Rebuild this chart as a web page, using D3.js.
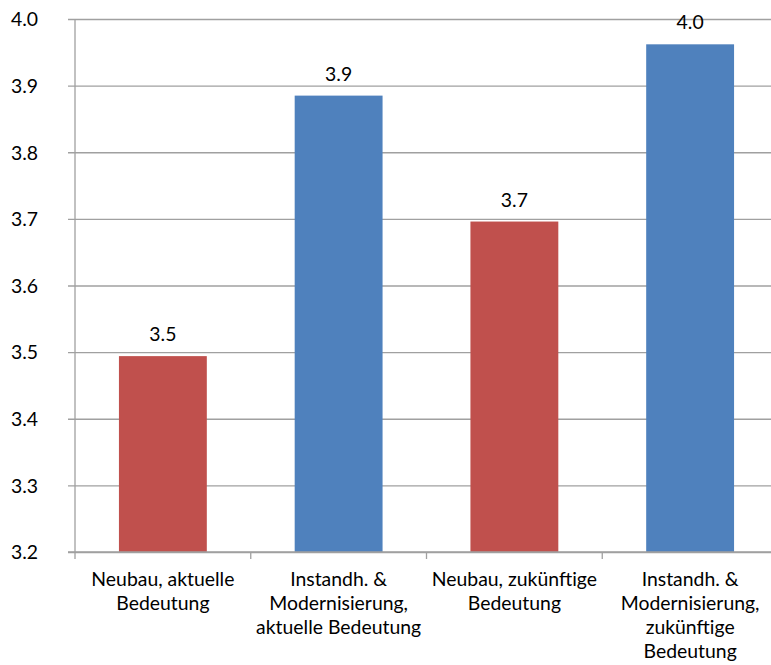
<!DOCTYPE html>
<html>
<head>
<meta charset="utf-8">
<script src="https://cdn.jsdelivr.net/npm/d3@7"></script>
<style>
  body { margin: 0; background: #fff; }
  text { font-family: Lato, "Liberation Sans", sans-serif; fill: #000; }
</style>
</head>
<body>
<script>
// data
const categories = [
  "Neubau, aktuelle\nBedeutung",
  "Instandh. &\nModernisierung,\naktuelle Bedeutung",
  "Neubau, zukünftige\nBedeutung",
  "Instandh. &\nModernisierung,\nzukünftige\nBedeutung"
];
const values = [3.494, 3.885, 3.696, 3.962];
const barColors = ["#C0504D", "#4F81BD", "#C0504D", "#4F81BD"];
const yTicks = [3.2, 3.3, 3.4, 3.5, 3.6, 3.7, 3.8, 3.9, 4.0];

// basic settings
const width = 771;
const height = 665;
const marginLeft = 75;
const marginTop = 19;
const plotW = 703;
const plotH = 533;
const gridColor = "#a0a0a0";
const fontSize = 19.4;

const svg = d3.select('body')
  .append('svg')
  .attr('width', width)
  .attr('height', height);

const chart_g = svg.append('g')
  .attr('transform', `translate(${marginLeft},${marginTop})`);

const x = d3.scaleBand()
  .domain(categories)
  .range([0, plotW])
  .paddingInner(0.5)
  .paddingOuter(0.25);

const y = d3.scaleLinear()
  .domain([3.2, 4.0])
  .range([plotH, 0]);

// gridlines + y axis
const yAxis = d3.axisLeft(y)
  .tickValues(yTicks)
  .tickFormat(d3.format('.1f'))
  .tickSize(-plotW)
  .tickPadding(0);

const yg = chart_g.append('g').call(yAxis);
yg.select('.domain').remove();
yg.selectAll('.tick line')
  .attr('x1', -7)
  .attr('stroke', gridColor)
  .attr('stroke-width', 1.3);
yg.selectAll('.tick text')
  .attr('x', -37)
  .attr('dy', '0.35em')
  .style('font-size', fontSize + 'px')
  .style('font-family', 'Lato, sans-serif');

// vertical axis line
chart_g.append('line')
  .attr('x1', 0).attr('x2', 0)
  .attr('y1', 0).attr('y2', plotH)
  .attr('stroke', gridColor)
  .attr('stroke-width', 1.3);

// bars
chart_g.selectAll('rect.bar')
  .data(values)
  .enter()
  .append('rect')
  .attr('class', 'bar')
  .attr('x', (d, i) => x(categories[i]))
  .attr('width', x.bandwidth())
  .attr('y', d => y(d))
  .attr('height', d => plotH - y(d))
  .attr('fill', (d, i) => barColors[i]);

// value labels
chart_g.selectAll('text.val')
  .data(values)
  .enter()
  .append('text')
  .attr('class', 'val')
  .attr('x', (d, i) => x(categories[i]) + x.bandwidth() / 2)
  .attr('y', d => y(d) - 15)
  .attr('text-anchor', 'middle')
  .style('font-size', fontSize + 'px')
  .text(d => d3.format('.1f')(d));

// x axis line and tick marks
chart_g.append('line')
  .attr('x1', -7).attr('x2', plotW)
  .attr('y1', plotH).attr('y2', plotH)
  .attr('stroke', gridColor)
  .attr('stroke-width', 1.5);

const step = x.step();
chart_g.selectAll('line.xtick')
  .data(d3.range(categories.length + 1))
  .enter()
  .append('line')
  .attr('class', 'xtick')
  .attr('x1', i => i * step).attr('x2', i => i * step)
  .attr('y1', plotH).attr('y2', plotH + 7)
  .attr('stroke', gridColor)
  .attr('stroke-width', 1.3);

// category labels
const catText = chart_g.selectAll('text.cat')
  .data(categories)
  .enter()
  .append('text')
  .attr('class', 'cat')
  .attr('text-anchor', 'middle')
  .style('font-size', fontSize + 'px')
  .attr('transform', d => `translate(${x(d) + x.bandwidth() / 2},${plotH + 34})`);

catText.selectAll('tspan')
  .data(d => d.split('\n'))
  .enter()
  .append('tspan')
  .attr('x', 0)
  .attr('y', (d, i) => i * 24)
  .text(d => d);
</script>
</body>
</html>
